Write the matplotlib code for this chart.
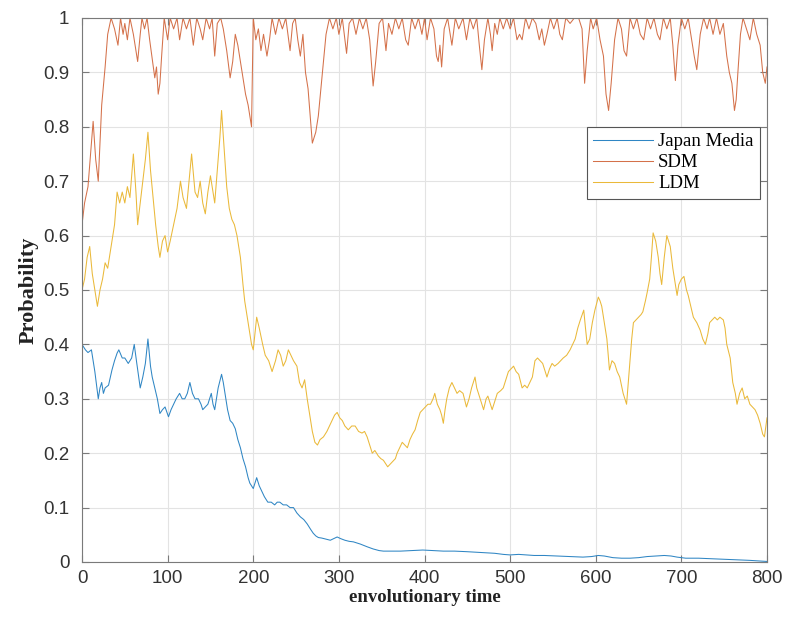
import matplotlib
matplotlib.use("Agg")
import matplotlib.pyplot as plt

# ---------------- data ----------------
jm_t = [0, 4, 7, 11, 15, 19, 21, 23, 25, 27, 31, 35, 38, 41, 43, 47, 50, 54, 58, 61,
        64, 68, 71, 74, 77, 80, 82, 85, 88, 91, 94, 97, 101, 104, 107, 110, 114, 117, 120, 123,
        126, 129, 132, 136, 139, 141, 144, 147, 151, 153, 155, 157, 159, 163, 165, 167, 170, 173, 176, 179,
        182, 185, 188, 191, 194, 196, 198, 200, 202, 204, 207, 210, 213, 217, 221, 225, 228, 231, 235, 239,
        243, 247, 251, 255, 259, 263, 267, 270, 273, 276, 280, 285, 290, 294, 298, 302, 307, 312, 317, 325,
        333, 340, 347, 352, 362, 372, 385, 398, 410, 422, 435, 449, 460, 473, 482, 492, 500, 510, 520, 528,
        540, 555, 570, 585, 595, 603, 610, 620, 630, 640, 650, 660, 670, 680, 688, 695, 705, 720, 735, 750,
        765, 780, 790, 800]
jm_v = [0.40, 0.39, 0.385, 0.39, 0.35, 0.30, 0.32, 0.33, 0.31, 0.32, 0.325, 0.353, 0.37, 0.384, 0.39, 0.375, 0.375, 0.365, 0.375, 0.40,
        0.365, 0.32, 0.34, 0.365, 0.41, 0.36, 0.34, 0.32, 0.30, 0.273, 0.28, 0.285, 0.267, 0.28, 0.29, 0.30, 0.31, 0.30, 0.30, 0.31,
        0.33, 0.31, 0.30, 0.30, 0.29, 0.28, 0.285, 0.29, 0.31, 0.29, 0.28, 0.30, 0.32, 0.345, 0.33, 0.31, 0.28, 0.26, 0.255, 0.245,
        0.225, 0.21, 0.19, 0.175, 0.155, 0.145, 0.14, 0.135, 0.145, 0.155, 0.14, 0.13, 0.12, 0.11, 0.11, 0.105, 0.11, 0.11, 0.105, 0.105,
        0.10, 0.10, 0.09, 0.083, 0.078, 0.07, 0.06, 0.053, 0.048, 0.045, 0.044, 0.042, 0.04, 0.043, 0.046, 0.043, 0.04, 0.038, 0.037, 0.033,
        0.028, 0.024, 0.021, 0.02, 0.02, 0.02, 0.021, 0.022, 0.021, 0.02, 0.02, 0.019, 0.018, 0.017, 0.016, 0.014, 0.013, 0.014, 0.013, 0.012,
        0.012, 0.011, 0.010, 0.009, 0.010, 0.012, 0.011, 0.008, 0.007, 0.007, 0.008, 0.010, 0.011, 0.012, 0.011, 0.009, 0.007, 0.007, 0.006, 0.005,
        0.004, 0.003, 0.002, 0.001]

sdm_t = [0, 3, 7, 10, 13, 16, 19, 23, 27, 30, 34, 38, 42, 45, 48, 50, 53, 56, 60, 63,
         65, 68, 70, 73, 76, 79, 82, 85, 87, 89, 91, 93, 96, 100, 103, 107, 111, 114, 118, 122,
         126, 130, 134, 138, 141, 145, 149, 152, 155, 158, 162, 165, 169, 173, 176, 179, 182, 185, 188, 191,
         194, 198, 200, 203, 206, 209, 212, 216, 219, 222, 226, 230, 234, 238, 243, 246, 249, 252, 255, 258,
         261, 264, 267, 269, 271, 273, 276, 279, 282, 285, 289, 293, 297, 300, 304, 309, 312, 316, 320, 324,
         328, 332, 336, 340, 343, 347, 351, 355, 358, 362, 366, 370, 374, 378, 381, 385, 389, 393, 397, 400,
         403, 407, 411, 414, 416, 418, 420, 423, 427, 430, 432, 436, 440, 445, 449, 453, 457, 461, 464, 467,
         470, 474, 477, 479, 482, 485, 488, 492, 496, 500, 504, 508, 511, 514, 518, 522, 526, 530, 534, 537,
         540, 543, 547, 551, 555, 558, 561, 565, 570, 575, 580, 584, 587, 590, 594, 597, 601, 605, 609, 612,
         615, 618, 622, 626, 630, 633, 636, 640, 644, 648, 652, 656, 660, 664, 668, 672, 675, 679, 683, 687,
         690, 693, 696, 700, 704, 708, 712, 715, 718, 722, 726, 730, 733, 737, 741, 745, 749, 753, 756, 759,
         762, 764, 766, 769, 772, 776, 780, 784, 788, 792, 795, 798, 800]
sdm_v = [0.62, 0.66, 0.69, 0.75, 0.81, 0.74, 0.70, 0.84, 0.91, 0.97, 1.0, 0.98, 0.95, 1.0, 0.97, 0.99, 0.96, 1.0, 0.97, 0.94,
         0.92, 0.97, 1.0, 0.98, 1.0, 0.96, 0.925, 0.89, 0.91, 0.86, 0.88, 0.93, 1.0, 0.96, 1.0, 0.98, 1.0, 0.96, 1.0, 0.98,
         1.0, 0.95, 1.0, 0.98, 0.96, 1.0, 0.98, 1.0, 0.93, 0.99, 1.0, 0.98, 0.94, 0.89, 0.92, 0.97, 0.95, 0.92, 0.89, 0.86,
         0.84, 0.80, 1.0, 0.96, 0.98, 0.94, 0.97, 0.93, 0.96, 1.0, 0.97, 1.0, 0.98, 1.0, 0.94, 0.99, 1.0, 0.96, 0.93, 0.97,
         0.90, 0.87, 0.81, 0.77, 0.78, 0.79, 0.82, 0.87, 0.92, 0.97, 1.0, 0.98, 1.0, 0.97, 1.0, 0.935, 0.99, 1.0, 0.97, 1.0,
         0.98, 1.0, 0.96, 0.875, 0.92, 0.99, 1.0, 0.94, 0.99, 0.97, 1.0, 0.98, 1.0, 0.96, 0.95, 1.0, 0.98, 1.0, 0.97, 1.0,
         0.96, 1.0, 0.98, 0.93, 0.92, 0.95, 0.91, 0.98, 1.0, 0.97, 0.95, 1.0, 0.98, 1.0, 0.96, 1.0, 0.98, 1.0, 0.95, 0.905,
         0.96, 1.0, 0.97, 0.94, 0.99, 0.97, 1.0, 0.98, 1.0, 0.98, 1.0, 0.96, 0.97, 0.96, 1.0, 0.98, 1.0, 0.99, 0.96, 0.98,
         0.95, 0.97, 1.0, 0.98, 1.0, 0.97, 0.96, 1.0, 0.99, 1.0, 1.0, 0.98, 0.88, 0.94, 1.0, 0.98, 1.0, 0.96, 0.93, 0.86,
         0.83, 0.88, 0.96, 1.0, 0.98, 0.94, 0.93, 1.0, 0.98, 1.0, 0.97, 0.96, 1.0, 0.98, 1.0, 0.97, 0.96, 1.0, 0.98, 1.0,
         0.95, 0.885, 0.95, 1.0, 0.98, 1.0, 0.96, 0.93, 0.905, 0.97, 1.0, 0.98, 1.0, 0.97, 1.0, 0.97, 0.99, 0.93, 0.90, 0.88,
         0.83, 0.85, 0.90, 0.97, 1.0, 0.98, 0.96, 1.0, 0.97, 0.95, 0.90, 0.88, 0.91]

ldm_t = [0, 3, 6, 9, 12, 15, 18, 21, 24, 27, 30, 34, 38, 41, 44, 47, 50, 53, 56, 60,
         63, 65, 68, 71, 74, 77, 80, 83, 86, 89, 91, 94, 97, 100, 103, 107, 111, 115, 118, 122,
         125, 128, 132, 135, 138, 141, 144, 147, 150, 153, 155, 157, 159, 161, 163, 166, 169, 172, 175, 178,
         181, 185, 188, 190, 192, 195, 198, 200, 202, 204, 207, 211, 214, 218, 222, 226, 229, 232, 235, 238,
         241, 244, 247, 251, 254, 257, 260, 263, 266, 269, 272, 275, 278, 282, 286, 289, 292, 295, 298, 301,
         304, 307, 311, 315, 319, 323, 327, 330, 333, 336, 339, 342, 346, 349, 352, 355, 357, 360, 363, 366,
         368, 371, 374, 377, 380, 383, 386, 389, 392, 395, 398, 401, 404, 407, 410, 412, 415, 418, 420, 422,
         424, 426, 429, 432, 435, 438, 441, 445, 449, 452, 455, 459, 461, 463, 466, 469, 472, 474, 477, 479,
         482, 485, 489, 492, 495, 498, 501, 504, 507, 510, 514, 517, 520, 523, 526, 529, 532, 535, 538, 541,
         543, 546, 549, 552, 556, 559, 562, 566, 570, 573, 576, 579, 582, 586, 588, 590, 593, 596, 599, 603,
         605, 607, 610, 613, 616, 619, 622, 625, 628, 632, 636, 638, 640, 642, 644, 647, 650, 653, 655, 658,
         660, 663, 665, 667, 670, 673, 675, 677, 680, 683, 685, 687, 690, 693, 695, 697, 700, 703, 706, 708,
         711, 714, 718, 722, 725, 728, 731, 733, 736, 739, 742, 745, 749, 751, 753, 757, 760, 763, 765, 768,
         771, 774, 777, 780, 783, 786, 789, 792, 795, 797, 800]
ldm_v = [0.50, 0.52, 0.56, 0.58, 0.53, 0.50, 0.47, 0.50, 0.52, 0.55, 0.54, 0.58, 0.62, 0.68, 0.66, 0.68, 0.66, 0.69, 0.67, 0.75,
         0.68, 0.62, 0.66, 0.70, 0.74, 0.79, 0.72, 0.67, 0.62, 0.58, 0.56, 0.59, 0.60, 0.57, 0.59, 0.62, 0.65, 0.70, 0.67, 0.65,
         0.70, 0.75, 0.68, 0.67, 0.70, 0.66, 0.64, 0.68, 0.71, 0.68, 0.66, 0.70, 0.74, 0.78, 0.83, 0.76, 0.69, 0.65, 0.63, 0.62,
         0.60, 0.56, 0.51, 0.48, 0.46, 0.43, 0.40, 0.39, 0.42, 0.45, 0.43, 0.40, 0.38, 0.37, 0.35, 0.37, 0.39, 0.38, 0.36, 0.37,
         0.39, 0.38, 0.37, 0.36, 0.33, 0.32, 0.335, 0.30, 0.27, 0.24, 0.22, 0.215, 0.225, 0.23, 0.24, 0.25, 0.26, 0.27, 0.275, 0.265,
         0.26, 0.25, 0.243, 0.25, 0.25, 0.24, 0.237, 0.24, 0.23, 0.215, 0.20, 0.205, 0.195, 0.19, 0.187, 0.18, 0.175, 0.18, 0.185, 0.19,
         0.20, 0.21, 0.22, 0.215, 0.21, 0.225, 0.235, 0.243, 0.26, 0.275, 0.28, 0.285, 0.29, 0.29, 0.30, 0.31, 0.29, 0.28, 0.27, 0.255,
         0.28, 0.30, 0.32, 0.33, 0.32, 0.31, 0.315, 0.31, 0.285, 0.30, 0.32, 0.34, 0.32, 0.31, 0.295, 0.28, 0.30, 0.305, 0.29, 0.28,
         0.295, 0.31, 0.315, 0.32, 0.335, 0.35, 0.355, 0.36, 0.35, 0.345, 0.32, 0.325, 0.32, 0.33, 0.34, 0.37, 0.375, 0.37, 0.365, 0.35,
         0.34, 0.355, 0.365, 0.36, 0.365, 0.37, 0.375, 0.38, 0.39, 0.40, 0.41, 0.43, 0.445, 0.463, 0.43, 0.40, 0.41, 0.44, 0.463, 0.487,
         0.48, 0.47, 0.44, 0.41, 0.353, 0.37, 0.365, 0.35, 0.34, 0.31, 0.29, 0.33, 0.37, 0.41, 0.44, 0.445, 0.45, 0.455, 0.46, 0.48,
         0.495, 0.52, 0.56, 0.605, 0.59, 0.56, 0.53, 0.51, 0.56, 0.60, 0.59, 0.58, 0.54, 0.51, 0.49, 0.51, 0.52, 0.525, 0.50, 0.49,
         0.47, 0.45, 0.44, 0.426, 0.41, 0.40, 0.42, 0.44, 0.445, 0.45, 0.445, 0.45, 0.445, 0.43, 0.40, 0.375, 0.33, 0.31, 0.29, 0.31,
         0.32, 0.30, 0.305, 0.29, 0.285, 0.28, 0.27, 0.255, 0.235, 0.23, 0.265]

series_names = ["Japan Media", "SDM", "LDM"]
series_colors = ["#2f86c4", "#d4714a", "#eab93a"]
x_ticks = [0, 100, 200, 300, 400, 500, 600, 700, 800]
y_ticks = [0, 0.1, 0.2, 0.3, 0.4, 0.5, 0.6, 0.7, 0.8, 0.9, 1]
y_tick_labels = ["0", "0.1", "0.2", "0.3", "0.4", "0.5", "0.6", "0.7", "0.8", "0.9", "1"]
x_label = "envolutionary time"
y_label = "Probability"

# ---------------- figure ----------------
fig = plt.figure(figsize=(7.87, 6.25), dpi=100)
ax = fig.add_axes([82 / 787, 63 / 625, 685 / 787, 544 / 625])

for (tt, vv), name, col in zip([(jm_t, jm_v), (sdm_t, sdm_v), (ldm_t, ldm_v)],
                               series_names, series_colors):
    ax.plot(tt, vv, color=col, lw=0.75, label=name)

ax.set_xlim(0, 800)
ax.set_ylim(0, 1)
ax.set_xticks(x_ticks)
ax.set_xticklabels([str(v) for v in x_ticks])
ax.set_yticks(y_ticks)
ax.set_yticklabels(y_tick_labels)

ax.grid(True, color="#e3e3e3", lw=0.8)
ax.set_axisbelow(True)
for s in ax.spines.values():
    s.set_color("#7a7a7a")
    s.set_linewidth(0.8)
ax.tick_params(direction="in", length=5, width=0.8, color="#7a7a7a",
               top=True, right=True, labelsize=13.5, labelcolor="#333333",
               labelfontfamily="Liberation Sans")
ax.tick_params(axis="x", pad=6)
ax.tick_params(axis="y", pad=9)

ax.set_xlabel(x_label, fontfamily="Liberation Serif", fontweight="bold",
              fontsize=13.5, labelpad=1, color="#222222")
ax.set_ylabel(y_label, fontfamily="Liberation Serif", fontweight="bold",
              fontsize=16, labelpad=3, color="#222222")

leg = ax.legend(loc="upper right", bbox_to_anchor=(0.99, 0.80), borderaxespad=0,
                prop={"family": "Liberation Serif", "size": 13.5},
                handlelength=3.2, handletextpad=0.25, labelspacing=0.2,
                borderpad=0.35, fancybox=False, framealpha=1, edgecolor="#555555")
leg.get_frame().set_linewidth(0.8)

fig.savefig("out.png", dpi=100)
